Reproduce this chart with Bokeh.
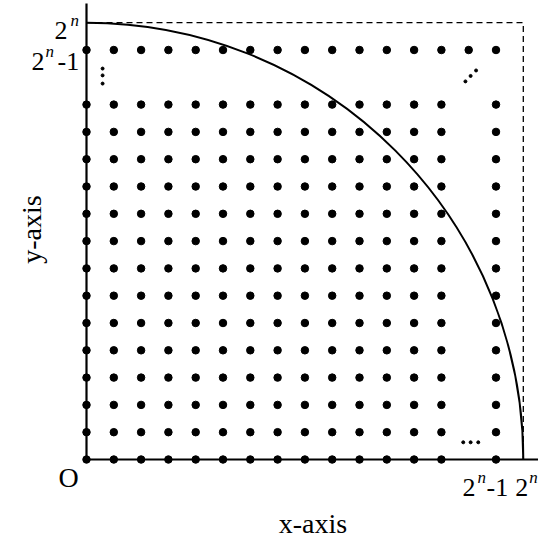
import math
from bokeh.plotting import figure
from bokeh.models import Range1d, ColumnDataSource
from bokeh.core.properties import value
from bokeh.embed import file_html
from bokeh.resources import INLINE

# ---- data ----
size_2n = 16                       # grid value for 2^n
grid_cols = [0, 1, 2, 3, 4, 5, 6, 7, 8, 9, 10, 11, 12, 13, 15]   # columns drawn in all rows
grid_rows = [0, 1, 2, 3, 4, 5, 6, 7, 8, 9, 10, 11, 12, 13, 15]   # rows drawn
extra_x = [14]                     # extra point in the top row
extra_y = [15]

# ellipsis dots
vdots_x = [0.59, 0.59, 0.59]
vdots_y = [14.32, 14.07, 13.77]
ddots_x = [13.88, 14.07, 14.27]
ddots_y = [13.85, 14.05, 14.25]
hdots_x = [13.80, 14.07, 14.35]
hdots_y = [0.63, 0.63, 0.63]

# tick-like labels (normal parts and italic superscripts)
lab_x = [0, 0, 0, 15, 15, 16]
lab_y = [16, 15, 15, 0, 0, 0]
lab_text = ["2", "2", "-1", "2", "-1", "2"]
lab_dx = [-32, -55, -29, -33.5, -9.5, -8]
lab_dy = [8, 11.5, 11.5, 28, 28, 28]

sup_x = [0, 0, 15, 16]
sup_y = [16, 15, 0, 0]
sup_text = ["n", "n", "n", "n"]
sup_dx = [-16, -41, -18.5, 6]
sup_dy = [-2, 1.5, 18, 18]

unit = 27.3
W = H = 538
x0_px, y0_px = 86, 79   # origin position inside the figure (from left / from bottom)

p = figure(width=W, height=H, output_backend="svg", toolbar_location=None,
           x_range=Range1d(-x0_px / unit, -x0_px / unit + W / unit),
           y_range=Range1d(-y0_px / unit, -y0_px / unit + H / unit),
           min_border=0, x_axis_type=None, y_axis_type=None)
p.grid.visible = False
p.outline_line_color = None
p.background_fill_color = "white"
p.border_fill_color = "white"

# dashed square
p.line([0, size_2n, size_2n], [size_2n, size_2n, 0], line_color="black",
       line_width=1.3, line_dash="6 4")

# quarter circle
p.arc(x=[0], y=[0], radius=size_2n, start_angle=0, end_angle=math.pi / 2,
      line_color="black", line_width=2)

# axes lines
p.line([0, 0], [0, 16.7], line_color="black", line_width=2.2)
p.line([0, 16.9], [0, 0], line_color="black", line_width=2.2)

# grid points
gx, gy = [], []
for r in grid_rows:
    for c in grid_cols:
        gx.append(c)
        gy.append(r)
gx += extra_x
gy += extra_y
p.scatter(gx, gy, size=7.5, color="black")

# ellipsis dots
p.scatter(vdots_x + ddots_x + hdots_x, vdots_y + ddots_y + hdots_y, size=3, color="black")

font = value("Liberation Serif")
src_l = ColumnDataSource(dict(x=lab_x, y=lab_y, t=lab_text, dx=lab_dx, dy=lab_dy))
p.text(x="x", y="y", text="t", x_offset="dx", y_offset="dy", source=src_l,
       text_font=font, text_font_size="26px", text_color="black",
       text_align="left", text_baseline="alphabetic")
src_s = ColumnDataSource(dict(x=sup_x, y=sup_y, t=sup_text, dx=sup_dx, dy=sup_dy))
p.text(x="x", y="y", text="t", x_offset="dx", y_offset="dy", source=src_s,
       text_font=font, text_font_size="17px", text_font_style="italic",
       text_color="black", text_align="left", text_baseline="alphabetic")

# origin label
p.text(x=[0], y=[0], text=["O"], x_offset=-18, y_offset=18, text_font=font,
       text_font_size="28px", text_color="black", text_align="center",
       text_baseline="middle")

# axis titles
p.text(x=[8], y=[0], text=["x-axis"], x_offset=8, y_offset=64, text_font=font,
       text_font_size="28px", text_color="black", text_align="center",
       text_baseline="alphabetic")
p.text(x=[0], y=[8], text=["y-axis"], x_offset=-55, y_offset=-11.6, angle=math.pi / 2,
       text_font=font, text_font_size="28px", text_color="black",
       text_align="center", text_baseline="alphabetic")

open("out.html", "w").write(file_html(p, INLINE))
